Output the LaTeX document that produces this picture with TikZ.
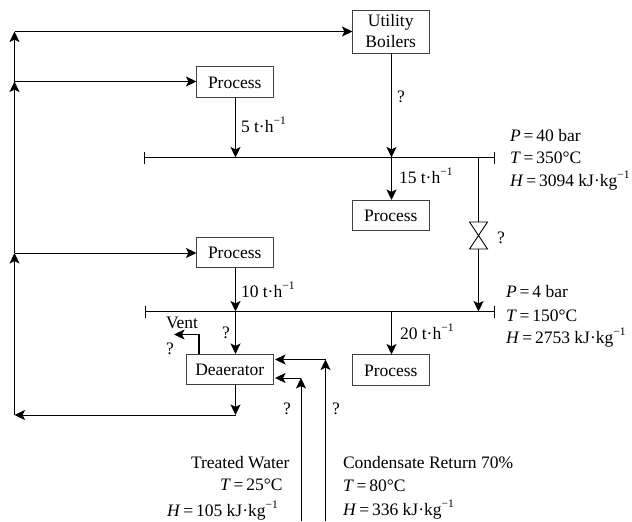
\documentclass[tikz,border=0pt]{standalone}
\usepackage{fontspec}
\setmainfont{Liberation Serif}
\usetikzlibrary{arrows.meta}
\newcommand{\perh}{t·h\raisebox{0.42em}{\fontsize{11.5}{12}\selectfont −1}}
\newcommand{\perkg}{kJ·kg\raisebox{0.42em}{\fontsize{11.5}{12}\selectfont −1}}
\newcommand{\qv}[1]{\textit{#1}\,=\,}
\tikzset{
  x=1pt,y=-1pt,
  every node/.style={font=\fontsize{17.5}{21}\selectfont,inner sep=0pt,outer sep=0pt},
  box/.style={draw=black!75,line width=0.9pt,minimum height=30.5pt,align=center,anchor=north west},
  procbox/.style={box,text height=13pt,text depth=0pt},
  pipe/.style={line width=0.9pt,draw=black},
  flow/.style={pipe,-{Stealth[length=10.5pt,width=10pt,inset=2.5pt]}},
  lab/.style={anchor=base west},
  tick/.style={line width=0.9pt}
}
\begin{document}
\begin{tikzpicture}
\useasboundingbox (0,0) rectangle (632,522);
% equipment
\node[box,minimum width=76.5pt,minimum height=43pt] (boil) at (352.5,10) {Utility\\Boilers};
\node[procbox,minimum width=76.5pt] (p1) at (196.5,66.5) {Process};
\node[procbox,minimum width=76.5pt] (p2) at (196.5,237) {Process};
\node[procbox,minimum width=76.5pt] (p3) at (352.5,200) {Process};
\node[procbox,minimum width=76.5pt] (p4) at (352.5,354.5) {Process};
\node[procbox,minimum width=87.5pt] (dea) at (186,354) {Deaerator};
% headers
\coordinate (h1l) at (144.5,157.5); \coordinate (h1r) at (494.5,157.5);
\coordinate (h2l) at (145.5,311.5); \coordinate (h2r) at (494.5,311.5);
\draw[pipe] (h1l) -- (h1r);
\draw[pipe] (h2l) -- (h2r);
\draw[tick] ([yshift=-6pt]h1l) -- ([yshift=6pt]h1l);
\draw[tick] ([yshift=-6pt]h1r) -- ([yshift=6pt]h1r);
\draw[tick] ([yshift=-6pt]h2l) -- ([yshift=6pt]h2l);
\draw[tick] ([yshift=-6pt]h2r) -- ([yshift=6pt]h2r);
% junctions
\coordinate (j1) at (235.5,157.5); \coordinate (j2) at (391.5,157.5);
\coordinate (j3) at (478.5,157.5); \coordinate (j4) at (478.5,311.5);
\coordinate (j5) at (235.5,311.5); \coordinate (j6) at (391.5,311.5);
\coordinate (vt) at (478.5,222); \coordinate (vb) at (478.5,249);
\coordinate (d1) at (235.5,415); \coordinate (c0) at (14.5,415);
\coordinate (c1) at (14.5,253); \coordinate (c2) at (14.5,81.5); \coordinate (c3) at (14.5,31.5);
\coordinate (v1) at (199,334.5); \coordinate (v2) at (174,334.5);
\coordinate (tw0) at (301,521); \coordinate (tw1) at (301,378);
\coordinate (cr0) at (325.5,521); \coordinate (cr1) at (325.5,359.5);
% flows
\draw[flow] (p1.south -| j1) -- (j1);
\draw[flow] (boil.south -| j2) -- (j2);
\draw[flow] (j2) -- (p3.north -| j2);
\draw[pipe] (j3) -- (vt);
\draw[pipe,line join=miter] ([xshift=-9pt]vt) -- ([xshift=9pt]vt) -- ([xshift=-9pt]vb) -- ([xshift=9pt]vb) -- cycle;
\draw[flow] (vb) -- (j4);
\draw[flow] (p2.south -| j5) -- (j5);
\draw[flow] (j5) -- (dea.north -| j5);
\draw[flow] (j6) -- (p4.north -| j6);
\draw[flow] (dea.south -| d1) -- (d1);
\draw[flow] (d1) -- (c0);
\draw[flow] (c0) -- (c1);
\draw[flow] (c1) -- (c2);
\draw[flow] (c2) -- (c3);
\draw[flow] (c3) -- (boil.west |- c3);
\draw[flow] (c2) -- (p1.west |- c2);
\draw[flow] (c1) -- (p2.west |- c1);
\draw[flow,line width=1.3pt] (dea.north -| v1) -- (v1) -- (v2);
\draw[flow] (tw0) -- (tw1);
\draw[flow] (tw1) -- ([xshift=1.5pt]dea.east |- tw1);
\draw[flow] (cr0) -- (cr1);
\draw[flow] (cr1) -- ([xshift=1.5pt]dea.east |- cr1);
% labels
\node[lab] (l1) at (241,132) {5 \perh};
\node[anchor=center] (q1) at (401,97) {?};
\node[lab] (l2) at (399,183) {15 \perh};
\node[lab] (a1) at (510,141) {\qv{P}40 bar};
\node[lab] (a2) at (510,163) {\qv{T}350°C};
\node[lab] (a3) at (510,186) {\qv{H}3094 \perkg};
\node[anchor=center] (q2) at (501,238) {?};
\node[lab] (l3) at (241,297) {10 \perh};
\node[lab] (l4) at (400,339) {20 \perh};
\node[lab] (b1) at (506,297) {\qv{P}4 bar};
\node[lab] (b2) at (506,321) {\qv{T}150°C};
\node[lab] (b3) at (506,343) {\qv{H}2753 \perkg};
\node[lab] (vent) at (166,328) {Vent};
\node[anchor=center] (q3) at (170,349) {?};
\node[anchor=center] (q4) at (226,333) {?};
\node[anchor=center] (q5) at (287,409) {?};
\node[anchor=center] (q6) at (336,409) {?};
\node[lab] (t1) at (191,468) {Treated Water};
\node[lab] (t2) at (220,490) {\qv{T}25°C};
\node[lab] (t3) at (167,516) {\qv{H}105 \perkg};
\node[lab] (r1) at (343,468) {Condensate Return 70\%};
\node[lab] (r2) at (343,491) {\qv{T}80°C};
\node[lab] (r3) at (343,515) {\qv{H}336 \perkg};
\end{tikzpicture}
\end{document}
